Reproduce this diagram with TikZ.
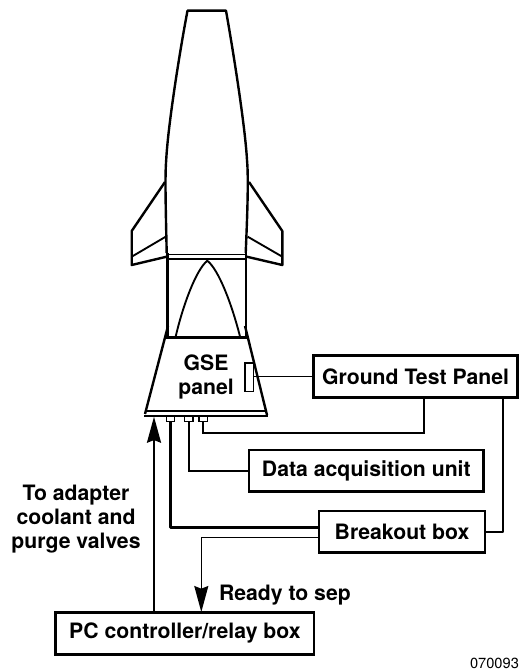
\documentclass[tikz,border=0pt]{standalone}
\usepackage{fontspec}
\setmainfont{TeX Gyre Heros}
\usetikzlibrary{arrows.meta}
\tikzset{
  px/.style={x=0.75pt,y=-0.75pt},
  thick line/.style={line width=1.8pt,line join=round},
  med line/.style={line width=1.4pt,line join=miter},
  thin line/.style={line width=1.05pt},
  boxnode/.style={draw=black,line width=2pt,inner sep=0pt,outer sep=0pt,font=\fontsize{15.9}{18}\bfseries\selectfont,text=black},
  lab/.style={inner sep=0pt,outer sep=0pt,font=\fontsize{15.9}{18}\bfseries\selectfont,text=black,anchor=base},
  port/.style={draw=black,line width=0.95pt,inner sep=0pt,outer sep=0pt,minimum width=6.5pt,minimum height=4pt},
  bighead/.style={-{Stealth[length=19.5pt,width=10.5pt,inset=2pt]}},
}
\begin{document}
\begin{tikzpicture}[px]
\useasboundingbox (0,0) rectangle (520,670);
% rocket
\draw[thick line] (166.7,253) .. controls (165.5,200) and (165,175) .. (166.2,160) .. controls (168,125) and (180,50) .. (187.5,10.7) -- (226,10.7) .. controls (233,50) and (245,125) .. (247,160) .. controls (248.3,175) and (248,200) .. (245.7,253);
\draw[thick line] (165,182) -- (131.7,231) -- (131.7,265) -- (167.5,256.5);
\draw[med line] (131.7,256.7) -- (165.7,236.7);
\draw[thick line] (249,182) -- (282.3,231) -- (282.3,265) -- (245.9,256.5);
\draw[med line] (282.3,256.7) -- (247.7,236.7);
\draw[thin line] (167.5,254.3) -- (245.9,254.3);
\draw[thin line] (167.5,259) -- (245.9,259);
\draw[thick line] (167.4,253) -- (167.4,337);
\draw[thick line] (245.8,253) -- (245.8,337);
\draw[med line] (175.7,336.5) .. controls (183,305) and (196,270) .. (207.3,260.7) .. controls (219,270) and (232,305) .. (240,336.5);
% adapter
\draw[line width=2.4pt] (165,337.3) -- (247.6,337.3);
\draw[thick line] (168,326) -- (145,414) ;
\draw[thick line] (245,326) -- (267,415);
\draw[thick line] (144,415.8) -- (267.5,415.8);
\draw[med line] (146.5,410.7) -- (265,410.7);
\node[lab] (gse) at (206,370) {GSE};
\node[lab] (gsep) at (206,394) {panel};
\node[draw=black,line width=1.2pt,inner sep=0pt,outer sep=0pt,minimum width=6.2pt,minimum height=21.7pt] (gpanel) at (249.2,377.2) {};
\node[port] (p1) at (170.5,418.5) {};
\node[port] (p2) at (188.6,418.5) {};
\node[port] (p3) at (203.4,418.5) {};
% boxes
\node[boxnode,minimum width=153pt,minimum height=31.2pt] (gtp) at (415.5,376.5) {Ground Test Panel};
\node[boxnode,minimum width=176pt,minimum height=31.2pt] (dau) at (366.3,470.8) {Data acquisition unit};
\node[boxnode,minimum width=124.5pt,minimum height=31.2pt] (bob) at (402,531.8) {Breakout box};
\node[boxnode,minimum width=193.8pt,minimum height=31.5pt] (pc) at (184.9,633.3) {PC controller/relay box};
% labels
\node[lab] (ta1) at (76,500) {To adapter};
\node[lab] (ta2) at (76,524) {coolant and};
\node[lab] (ta3) at (76,548) {purge valves};
\node[lab,anchor=base west] (rts) at (219,600) {Ready to sep};
\node[inner sep=0pt,outer sep=0pt,anchor=base west,font=\fontsize{11}{13}\selectfont] (num) at (470,668) {070093};
% free-end coordinates
\coordinate (g1) at (424.3,397);
\coordinate (g3) at (424.3,433);
\coordinate (g2) at (502.7,397);
\coordinate (b1) at (319,527.3);
\coordinate (b2) at (319,537.3);
\coordinate (a1) at (154,612);
\coordinate (a2) at (154,416.7);
\coordinate (s1) at (201.3,537.3);
\coordinate (s2) at (201.3,612);
% connectors
\draw[thin line] (gpanel.east |- gtp.west) -- (gtp.west);
\draw[med line] (g1) -- (g3) -| (p3.south);
\draw[med line] (p2.south) |- (dau.west);
\draw[thick line] (p1.south) |- (b1);
\draw[thin line] (b2) -- (s1);
\draw[thin line,bighead] (s1) -- (s2);
\draw[thick line] (g2) |- (bob.east);
\draw[line width=1.6pt,bighead] (a1) -- (a2);
\end{tikzpicture}
\end{document}
